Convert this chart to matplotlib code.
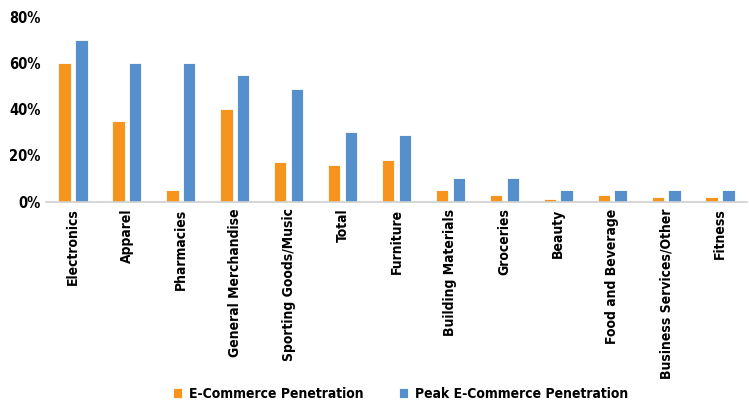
import numpy as np
import matplotlib
matplotlib.use('Agg')
import matplotlib.pyplot as plt
from matplotlib.ticker import PercentFormatter

categories = ['Electronics', 'Apparel', 'Pharmacies', 'General Merchandise',
              'Sporting Goods/Music', 'Total', 'Furniture', 'Building Materials',
              'Groceries', 'Beauty', 'Food and Beverage',
              'Business Services/Other', 'Fitness']
ecommerce = [0.60, 0.35, 0.05, 0.40, 0.17, 0.16, 0.18, 0.05, 0.03, 0.01, 0.03, 0.02, 0.02]
peak = [0.70, 0.60, 0.60, 0.55, 0.49, 0.30, 0.29, 0.10, 0.10, 0.05, 0.05, 0.05, 0.05]

plt.rcParams['font.family'] = ['DejaVu Sans']
plt.rcParams['font.stretch'] = 'condensed'
plt.rcParams['font.weight'] = 'bold'

fig = plt.figure(figsize=(7.49, 4.01), dpi=100)
ax = fig.add_axes([46 / 749, 0.4975, 701 / 749, 0.4595])

x = np.arange(len(categories))
w = 0.23
ax.bar(x - 0.155, ecommerce, w, color='#f7941d', edgecolor='white', linewidth=0.6,
       label='E-Commerce Penetration')
ax.bar(x + 0.155, peak, w, color='#5590cc', edgecolor='white', linewidth=0.6,
       label='Peak E-Commerce Penetration')

ax.set_xlim(-0.5, len(categories) - 0.5)
ax.set_ylim(0, 0.8)
ax.set_yticks([0, 0.2, 0.4, 0.6, 0.8])
ax.yaxis.set_major_formatter(PercentFormatter(1.0, decimals=0))
ax.set_xticks(x)
ax.set_xticklabels(categories, rotation=90, fontsize=10, fontweight='bold')
ax.tick_params(axis='y', labelsize=10.5, length=0, pad=4)
ax.tick_params(axis='x', length=0, pad=5)
for s in ['top', 'right', 'left']:
    ax.spines[s].set_visible(False)
ax.spines['bottom'].set_color('#d0d0d0')
ax.spines['bottom'].set_linewidth(1.2)

fig.legend(loc='center', bbox_to_anchor=(0.535, 0.018), ncol=2, frameon=False,
           fontsize=10, handlelength=0.7, handleheight=0.7, columnspacing=2.5,
           handletextpad=0.5, borderpad=0)

fig.savefig('out.png', dpi=100)
